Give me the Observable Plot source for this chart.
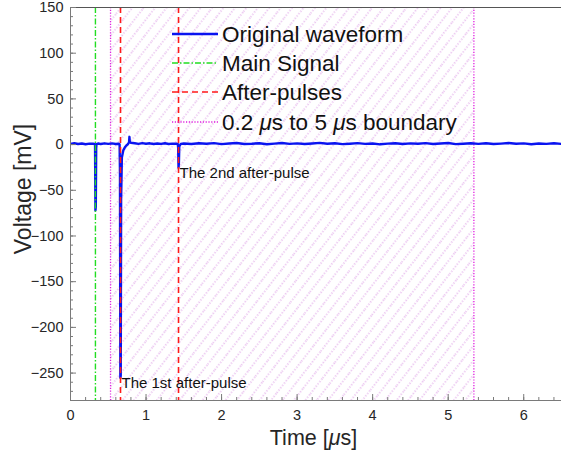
<!DOCTYPE html>
<html>
<head>
<meta charset="utf-8">
<script src="https://cdn.jsdelivr.net/npm/d3@7"></script>
<script src="https://cdn.jsdelivr.net/npm/@observablehq/plot@0.6"></script>
<style>
  html, body { margin: 0; padding: 0; background: #fff; }
  #chart { width: 561px; height: 454px; }
  svg { font-family: "Liberation Sans", Arial, Helvetica, sans-serif; }
</style>
</head>
<body>
<div id="chart"></div>
<script>
// ---- data ----
const timeUs = [0, 0.05, 0.1, 0.15, 0.2, 0.25, 0.3, 0.325, 0.33, 0.335, 0.34, 0.345, 0.37, 0.4, 0.45, 0.5, 0.55, 0.6, 0.64, 0.65, 0.655, 0.66, 0.665, 0.67, 0.68, 0.69, 0.70, 0.72, 0.74, 0.76, 0.775, 0.78, 0.785, 0.80, 0.85, 0.9, 0.95, 1.0, 1.05, 1.1, 1.15, 1.2, 1.25, 1.3, 1.35, 1.4, 1.42, 1.425, 1.43, 1.435, 1.44, 1.46, 1.5,
  1.6, 1.7, 1.8, 1.9, 2.0, 2.1, 2.2, 2.3, 2.4, 2.5, 2.6, 2.7, 2.8, 2.9, 3.0, 3.1, 3.2, 3.3, 3.4, 3.5, 3.6, 3.7, 3.8, 3.9, 4.0, 4.1, 4.2, 4.3, 4.4, 4.5, 4.6, 4.7, 4.8, 4.9, 5.0, 5.1, 5.2, 5.3, 5.4, 5.5, 5.6, 5.7, 5.8, 5.9, 6.0, 6.1, 6.2, 6.3, 6.4, 6.5, 6.6];
const voltageMv = [0.8, 1.5, 0.6, 1.2, 0.4, 1.0, 0.9, 0.5, -72, -68, -4, 0.5, 1.2, 0.6, 1.4, 0.8, 1.3, 0.7, 0.9, 0.4, -30, -255, -253, -60, -14, -10, -6, -3, -1, 0.5, 2.5, 8.5, 3, 2, 1.5, 0.8, 1.6, 0.9, 1.4, 0.6, 1.2, 0.8, 1.5, 0.7, 1.1, 0.9, 0.6, -3, -25, -20, -2, 0.8, 1.2,
  0.6, 1.4, 0.9, 1.6, 0.5, 1.2, 1.8, 0.7, 1.0, 1.5, 0.4, 1.1, 1.7, 0.8, 1.3, 0.6, 1.2, 1.9, 0.9, 1.4, 0.5, 1.0, 1.6, 0.8, 1.2, 0.3, 1.1, 1.5, 0.7, 1.3, 0.9, 1.6, 0.6, 1.2, 1.8, 0.5, 1.0, 1.4, 0.8, 1.5, 0.6, 1.1, 1.7, 0.9, 1.3, 0.4, 1.2, 0.8, 1.5, 0.7, 1.0];
const mainSignalUs = [0.33];
const afterPulseUs = [0.662, 1.43];
const afterPulseMinMv = [-255, -25];
const afterPulseLabels = ["The 1st after-pulse", "The 2nd after-pulse"];
const boundaryUs = [0.53, 5.34];
const xTicks = [0, 1, 2, 3, 4, 5, 6];
const yTicks = [-250, -200, -150, -100, -50, 0, 50, 100, 150];
const xDomain = [0, 6.5];
const yDomain = [-280, 150];
const legendLabels = ["Original waveform", "Main Signal", "After-pulses", "0.2 μs to 5 μs boundary"];

const waveform = timeUs.map((t, i) => ({t, v: voltageMv[i]}));
const annotations = afterPulseUs.map((t, i) => ({t, v: afterPulseMinMv[i], label: afterPulseLabels[i]}));
const xMinor = d3.range(0, 6.61, 0.2).map(d => +d.toFixed(2));
const yMinor = d3.range(-280, 151, 10);

const W = 561, H = 454;
const mL = 70, mR = 0, mT = 7, mB = 54;
const plotW = W - mL - mR, plotH = H - mT - mB;
const axisColor = "#7a7a7a";
const textColor = "#262626";

const chart = Plot.plot({
  width: W, height: H,
  marginLeft: mL, marginRight: mR, marginTop: mT, marginBottom: mB,
  x: {domain: xDomain},
  y: {domain: yDomain},
  style: {fontFamily: "'Liberation Sans', Arial, sans-serif", background: "#fff"},
  marks: [
    // hatched region
    Plot.rect([boundaryUs], {x1: d => d[0], x2: d => d[1], fill: "url(#hatch)"}),
    // boundary lines
    Plot.ruleX(boundaryUs, {stroke: "#e020e0", strokeWidth: 1.3, strokeDasharray: "1.2,1.6"}),
    // waveform
    Plot.line(waveform, {x: "t", y: "v", stroke: "#0a14f0", strokeWidth: 2.4, clip: true}),
    // main signal
    Plot.ruleX(mainSignalUs, {stroke: "#22dd22", strokeWidth: 1.4, strokeDasharray: "6,2,1.5,2"}),
    // after-pulses
    Plot.ruleX(afterPulseUs, {stroke: "#ff1a1a", strokeWidth: 1.6, strokeDasharray: "6,4"}),
    // annotations
    Plot.text(annotations, {x: "t", y: "v", text: "label", textAnchor: "start", lineAnchor: "top", dx: 1, dy: 0, fontSize: 15, fill: "#111"}),
    // axes frame lines
    Plot.ruleY([yDomain[0]], {stroke: axisColor}),
    Plot.ruleY([yDomain[1]], {stroke: "#555"}),
    Plot.ruleX([xDomain[0]], {stroke: axisColor}),
    // ticks (inward)
    Plot.tickX(xTicks, {x: d => d, stroke: axisColor, insetTop: plotH - 6}),
    Plot.tickX(xMinor, {x: d => d, stroke: axisColor, insetTop: plotH - 3}),
    Plot.tickY(yTicks, {y: d => d, stroke: axisColor, insetRight: plotW - 6}),
    Plot.tickY(yMinor, {y: d => d, stroke: axisColor, insetRight: plotW - 3}),
    Plot.axisX(xTicks, {tickSize: 0, tickPadding: 9, fontSize: 14.5, color: textColor, label: null}),
    Plot.axisY(yTicks, {tickSize: 0, tickPadding: 7, fontSize: 14.5, color: textColor, label: null})
  ]
});

document.getElementById("chart").appendChild(chart);

const svg = d3.select(chart);
// hatch pattern
const defs = svg.insert("defs", ":first-child");
const pat = defs.append("pattern")
  .attr("id", "hatch")
  .attr("patternUnits", "userSpaceOnUse")
  .attr("width", 9).attr("height", 20)
  .attr("patternTransform", "rotate(38)");
pat.append("line")
  .attr("x1", 1).attr("y1", 0).attr("x2", 1).attr("y2", 20)
  .attr("stroke", "#c050d0").attr("stroke-opacity", 0.6)
  .attr("stroke-width", 1).attr("stroke-dasharray", "1.3,1.7");

// legend
const legendStyles = [
  {stroke: "#0a14f0", width: 2.4, dash: null},
  {stroke: "#22dd22", width: 1.4, dash: "6,2,1.5,2"},
  {stroke: "#ff1a1a", width: 1.6, dash: "6,4"},
  {stroke: "#e020e0", width: 1.3, dash: "1.2,1.6"}
];
const legendRows = [34, 63, 92, 122];
const lg = svg.append("g").attr("text-anchor", "start");
legendLabels.forEach((label, i) => {
  const s = legendStyles[i];
  lg.append("line")
    .attr("x1", 172).attr("x2", 218)
    .attr("y1", legendRows[i]).attr("y2", legendRows[i])
    .attr("stroke", s.stroke).attr("stroke-width", s.width)
    .attr("stroke-dasharray", s.dash);
  const t = lg.append("text")
    .attr("x", 222).attr("y", legendRows[i])
    .attr("dy", "0.35em")
    .attr("text-anchor", "start")
    .attr("font-size", 22.5).attr("fill", "#111");
  const parts = label.split("μ");
  parts.forEach((p, j) => {
    if (j > 0) t.append("tspan").attr("font-style", "italic").text("μ");
    t.append("tspan").text(p);
  });
});

// axis labels
svg.append("text")
  .attr("transform", `translate(31,189) rotate(-90)`)
  .attr("text-anchor", "middle")
  .attr("font-size", 23).attr("fill", textColor)
  .text("Voltage [mV]");
const xl = svg.append("text")
  .attr("x", mL + plotW / 2 - 2).attr("y", 445)
  .attr("text-anchor", "middle")
  .attr("font-size", 21.5).attr("fill", textColor);
xl.append("tspan").text("Time [");
xl.append("tspan").attr("font-style", "italic").text("μ");
xl.append("tspan").text("s]");
</script>
</body>
</html>
